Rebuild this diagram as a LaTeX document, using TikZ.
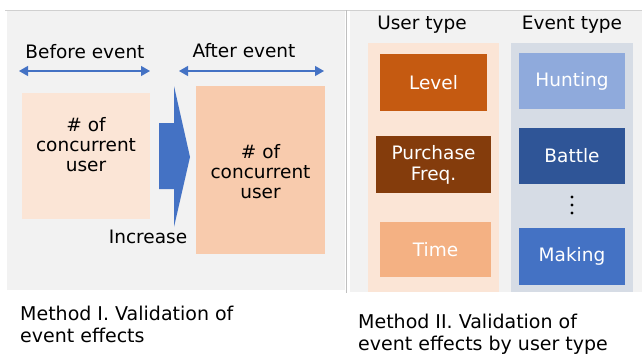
\documentclass[tikz,border=0pt]{standalone}
\usepackage{fontspec}
\setmainfont{DejaVu Sans}
\usetikzlibrary{arrows.meta}

\definecolor{panelgray}{HTML}{F2F2F2}
\definecolor{rulegray}{HTML}{D0D0D0}
\definecolor{sepgray}{HTML}{BFBFBF}
\definecolor{peachlight}{HTML}{FBE5D6}
\definecolor{peach}{HTML}{F8CBAD}
\definecolor{slatelight}{HTML}{D6DCE5}
\definecolor{arrowblue}{HTML}{4472C4}
\definecolor{rust}{HTML}{C55A11}
\definecolor{brownish}{HTML}{843C0C}
\definecolor{apricot}{HTML}{F4B183}
\definecolor{skyblue}{HTML}{8FAADC}
\definecolor{navyblue}{HTML}{2F5597}

\tikzset{
  txt/.style={font=\fontsize{18.5}{20}\selectfont, align=center, inner sep=0pt},
  caption/.style={font=\fontsize{19}{22}\selectfont, align=left, inner sep=0pt, anchor=west},
  tile/.style={inner sep=0pt, align=center, text=white, font=\fontsize{18.5}{21}\selectfont},
  span/.style={draw=arrowblue, line width=1.2pt,
    {Triangle[length=9pt,width=10pt]}-{Triangle[length=9pt,width=10pt]}},
}

\begin{document}
\begin{tikzpicture}[x=1pt,y=-1pt]
  \useasboundingbox (0,0) rectangle (642,356);

  % panels
  \fill[panelgray] (7,10) rectangle (345,290);
  \fill[panelgray] (350,10) rectangle (642,292);
  \draw[rulegray] (5,10) -- (642,10);
  \draw[sepgray] (346,10) -- (346,293);

  % method I
  \node[txt] (beforelbl) at (85,52) {Before event};
  \node[txt] (afterlbl) at (244,51) {After event};
  \coordinate (b1) at (19,71);
  \coordinate (b2) at (150,71);
  \coordinate (a1) at (179,71);
  \coordinate (a2) at (324,71);
  \draw[span] (b1) -- (b2);
  \draw[span] (a1) -- (a2);

  \node[fill=peachlight, minimum width=128, minimum height=126, inner sep=0pt] (before) at (86,156) {};
  \node[txt] (beforetxt) at (86,145) {\# of\\concurrent\\user};
  \node[fill=peach, minimum width=129, minimum height=168, inner sep=0pt] (after) at (260.5,170) {};
  \node[txt] (aftertxt) at (260.5,172) {\# of\\concurrent\\user};

  \fill[arrowblue] (159,123) -- (174,123) -- (174,86) -- (190,157)
    -- (174,227) -- (174,189) -- (159,189) -- cycle;
  \node[txt] (increase) at (148,237) {Increase};

  % method II
  \node[txt] (usertype) at (422,25) {User type};
  \node[txt] (eventtype) at (572,25) {Event type};
  \fill[peachlight] (368,43) rectangle (499,292);
  \fill[slatelight] (511,43) rectangle (633,292);

  \node[tile, fill=rust, minimum width=107, minimum height=57] (level) at (433.5,82.5) {Level};
  \node[tile, fill=brownish, minimum width=115, minimum height=57] (purchase) at (433.5,164.5) {Purchase\\Freq.};
  \node[tile, fill=apricot, minimum width=111, minimum height=55] (time) at (435.5,249.5) {Time};

  \node[tile, fill=skyblue, minimum width=106, minimum height=56] (hunting) at (572,81) {Hunting};
  \node[tile, fill=navyblue, minimum width=106, minimum height=56] (battle) at (572,156) {Battle};
  \node[tile, fill=arrowblue, minimum width=106, minimum height=57] (making) at (572,256.5) {Making};
  \foreach \y in {197,205,213}
    \fill (572,\y) circle (1.7);

  % captions
  \node[caption] (capone) at (20,324) {Method I. Validation of\\event effects};
  \node[caption] (captwo) at (358,334) {Method II. Validation of\\event effects by user type};
\end{tikzpicture}
\end{document}
